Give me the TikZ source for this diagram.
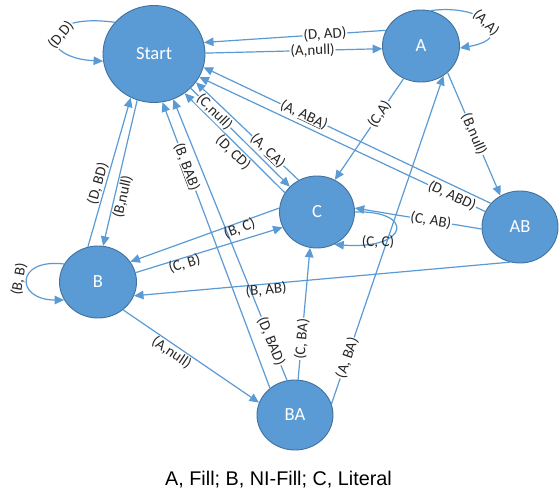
\documentclass[tikz,border=0pt]{standalone}
\usepackage{fontspec}
\setmainfont{Carlito}
\newfontfamily\capfont{Liberation Sans}
\usetikzlibrary{arrows.meta,shapes.geometric}
\definecolor{nodeblue}{HTML}{5B9BD5}
\definecolor{nodeedge}{HTML}{41719C}
\definecolor{linkblue}{HTML}{5B9BD5}
\begin{document}
\begin{tikzpicture}[x=1pt,y=-1pt,
  state/.style={ellipse, fill=nodeblue, draw=nodeedge, line width=0.9pt, text=white,
    font=\fontsize{18.5}{20}\selectfont, inner sep=0pt},
  link/.style={draw=linkblue, line width=1.2pt, -{Triangle[length=9.5pt,width=8.5pt]}},
  lab/.style={font=\fontsize{15}{16}\selectfont, inner sep=0.8pt, text=black!85},
  onl/.style={lab, sloped, fill=white},
]
\useasboundingbox (0,0) rectangle (560,494);
\fill[white] (0,0) rectangle (560,494);

\node[state, minimum width=102pt, minimum height=97pt] (start) at (154,54) {Start};
\node[state, minimum width=77pt, minimum height=72pt] (a) at (421,46) {A};
\node[state, minimum width=75pt, minimum height=72pt] (c) at (317,212) {C};
\node[state, minimum width=76pt, minimum height=72pt] (ab) at (520,227) {AB};
\node[state, minimum width=77pt, minimum height=72pt] (b) at (98,282) {B};
\node[state, minimum width=76pt, minimum height=70pt] (ba) at (295,415) {BA};

\draw[link] (a.156) -- node[onl, pos=0.335] (lDAD) {(D, AD)} (start.13);
\draw[link] (start.1) -- node[onl, pos=0.606] (lAnullA) {(A,null)} (a.184);
\draw[link] (a.242) -- node[onl, pos=0.35] (lCA) {(C,A)} (c.61);
\draw[link] (a.-45) -- node[onl, pos=0.5] (lBnullAB) {(B,null)} (ab.122);
\draw[link] (ba.17) -- node[onl, pos=0.14] (lABA) {(A, BA)} (a.-53);
\draw[link] (ab.141) -- node[onl, pos=0.65] (lAABA) {(A, \underline{ABA})} (start.-15);
\draw[link] (ab.156) -- node[onl, pos=0.116] (lDABD) {(D, ABD)} (start.-27);
\draw[link] (ab.183) -- node[onl, pos=0.40] (lCAB) {(C, AB)} (c.6);
\draw[link] (c.120) -- node[onl, pos=0.30] (lACA) {(A, \underline{CA})} (start.-34);
\draw[link] (c.149) -- node[lab, sloped, below, pos=0.46] (lDCD) {(D, CD)} (start.-52);
\draw[link] (start.-43) -- node[onl, pos=0.24] (lCnull) {(C,null)} (c.137);
\draw[link] (ba.133) -- node[onl, pos=0.774] (lBBAB) {(B, \underline{BAB})} (start.-80);
\draw[link] (ba.103) -- node[onl, pos=0.14] (lDBAD) {(D, BAD)} (start.-67);
\draw[link] (ba.85) -- node[onl, pos=0.31] (lCBA) {(C, BA)} (c.259);
\draw[link] (b.106) -- node[lab, sloped, above, pos=0.41] (lDBD) {(D, BD)} (start.-118);
\draw[link] (start.-110) -- node[lab, sloped, below, pos=0.65] (lBnullB) {(B,null)} (b.82);
\draw[link] (c.174) -- node[lab, sloped, below=-2pt, pos=0.28] (lBC) {(B, C)} (b.32);
\draw[link] (b.14) -- node[lab, sloped, below=-2pt, pos=0.32] (lCB) {(C, B)} (c.204);
\draw[link] (ab.254) -- node[lab, sloped, below=-2pt, pos=0.65] (lBAB) {(B, AB)} (b.-21);
\draw[link] (b.-48) -- node[lab, sloped, below=0pt, pos=0.39] (lAnullBA) {(A,null)} (ba.161);

\draw[link] (start.141) .. controls (38,12) and (38,58) .. (start.188);
\node[lab, fill=white, rotate=50] (lDD) at (61,35) {(D,D)};
\draw[link] (a.75) .. controls (485,3) and (518,38) .. (a.-3);
\node[lab, fill=white, rotate=-45] (lAA) at (486,23) {(A,A)};
\draw[link] (b.152) .. controls (15,258) and (15,300) .. (b.208);
\node[lab, rotate=80] (lBB) at (19,279) {(B, B)};
\draw[link] (c.0) .. controls (415,210) and (410,250) .. (c.-62);
\node[lab] (lCC) at (378,242) {(C, C)};

\node[font=\capfont\fontsize{19.8}{22}\selectfont, anchor=base, inner sep=0pt] (caption) at (278.5,485) {A, Fill; B, NI-Fill; C, Literal};
\end{tikzpicture}
\end{document}
